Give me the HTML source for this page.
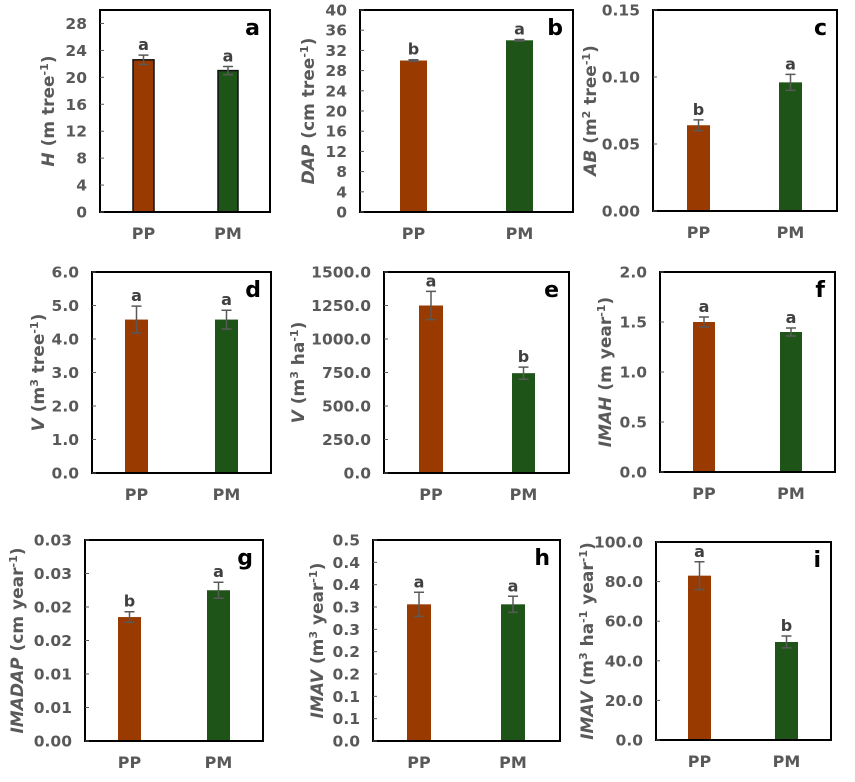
<!DOCTYPE html>
<html><head><meta charset="utf-8"><style>
html,body{margin:0;padding:0;background:#fff;}
svg{display:block;font-family:"DejaVu Sans","Liberation Sans",sans-serif;}
</style></head><body>
<svg id="fig" width="855" height="782" viewBox="0 0 855 782"></svg>
<script>
// Data arrays
const categories = ["PP", "PM"];
const panelIds = ["a","b","c","d","e","f","g","h","i"];
const meanH = [22.6, 21.0];      const errH = [0.7, 0.6];     const letH = ["a","a"];
const meanDAP = [30.0, 34.0];    const errDAP = [0.15, 0.15]; const letDAP = ["b","a"];
const meanAB = [0.064, 0.096];   const errAB = [0.004, 0.006];const letAB = ["b","a"];
const meanVt = [4.58, 4.58];     const errVt = [0.4, 0.28];   const letVt = ["a","a"];
const meanVha = [1250, 745];     const errVha = [105, 45];    const letVha = ["a","b"];
const meanIMAH = [1.5, 1.4];     const errIMAH = [0.05, 0.04];const letIMAH = ["a","a"];
const meanIMADAP = [0.0185, 0.0225]; const errIMADAP = [0.0008, 0.0012]; const letIMADAP = ["b","a"];
const meanIMAV = [0.34, 0.34];   const errIMAV = [0.03, 0.02]; const letIMAV = ["a","a"];
const meanIMAVha = [83, 49.5];   const errIMAVha = [7, 3];    const letIMAVha = ["a","b"];
const ticksH = ["0","4","8","12","16","20","24","28"];
const ticksDAP = ["0","4","8","12","16","20","24","28","32","36","40"];
const ticksAB = ["0.00","0.05","0.10","0.15"];
const ticksVt = ["0.0","1.0","2.0","3.0","4.0","5.0","6.0"];
const ticksVha = ["0.0","250.0","500.0","750.0","1000.0","1250.0","1500.0"];
const ticksIMAH = ["0.0","0.5","1.0","1.5","2.0"];
const ticksIMADAP = ["0.00","0.01","0.01","0.02","0.02","0.03","0.03"];
const ticksIMAV = ["0.0","0.1","0.1","0.2","0.2","0.3","0.3","0.4","0.4","0.5"];
const ticksIMAVha = ["0.0","20.0","40.0","60.0","80.0","100.0"];
const tickStep = [4, 4, 0.05, 1, 250, 0.5, 0.005, 0.5/9, 20];
const yMax = [30, 40, 0.15, 6, 1500, 2, 0.03, 0.5, 100];

// Layout (not data)
const layout = [
 {l:100,r:270,t:10,b:212,bars:[[133,154],[218,238]],tx:48,outline:true,title:["H"," (m tree","-1",")"]},
 {l:360,r:573,t:10,b:212,bars:[[400,427],[506,533]],tx:308,title:["DAP"," (cm tree","-1",")"]},
 {l:653,r:837,t:10,b:211,bars:[[687,710],[779,802]],tx:590,title:["AB"," (m","2"," tree","-1",")"]},
 {l:92,r:271,t:272,b:473,bars:[[125,148],[215,238]],tx:38,title:["V"," (m","3"," tree","-1",")"]},
 {l:384,r:569,t:272,b:473,bars:[[419,443],[512,535]],tx:298,title:["V","  (m","3"," ha","-1",")"]},
 {l:660,r:835,t:272,b:472,bars:[[693,715],[780,802]],tx:605,title:["IMAH"," (m year","-1",")"]},
 {l:85,r:263,t:540,b:741,bars:[[118,141],[207,230]],tx:17,title:["IMADAP"," (cm year","-1",")"]},
 {l:373,r:560,t:540,b:741,bars:[[407,431],[501,525]],tx:317,title:["IMAV"," (m","3"," year","-1",")"]},
 {l:656,r:831,t:542,b:740,bars:[[688,711],[775,798]],tx:587,title:["IMAV","  (m","3"," ha","-1"," year","-1",")"]}
];
const means=[meanH,meanDAP,meanAB,meanVt,meanVha,meanIMAH,meanIMADAP,meanIMAV,meanIMAVha];
const errs=[errH,errDAP,errAB,errVt,errVha,errIMAH,errIMADAP,errIMAV,errIMAVha];
const lets=[letH,letDAP,letAB,letVt,letVha,letIMAH,letIMADAP,letIMAV,letIMAVha];
const ticks=[ticksH,ticksDAP,ticksAB,ticksVt,ticksVha,ticksIMAH,ticksIMADAP,ticksIMAV,ticksIMAVha];
const colors=["#993a00","#1f5419"];
const NS="http://www.w3.org/2000/svg";
const svg=document.getElementById("fig");
function mk(tag,attrs,parent,text){const e=document.createElementNS(NS,tag);for(const k in attrs)e.setAttribute(k,attrs[k]);if(text!==undefined)e.textContent=text;parent.appendChild(e);return e;}

layout.forEach((L,p)=>{
  const g=mk("g",{},svg);
  
  
  const y=v=>L.b-(v/yMax[p])*(L.b-L.t);
  categories.forEach((c,i)=>{
    const [x0,x1]=L.bars[i];
    const r=mk("rect",{x:x0,y:y(means[p][i]),width:x1-x0,height:L.b-y(means[p][i]),fill:colors[i],stroke:L.outline?"#111":"none","stroke-width":L.outline?1.5:0},g);
    
    
    const cx=(x0+x1)/2, yt=y(means[p][i]+errs[p][i]), yb=y(means[p][i]-errs[p][i]);
    const eb=mk("path",{d:`M${cx},${yt}V${yb}M${cx-5},${yt}H${cx+5}M${cx-5},${yb}H${cx+5}`,stroke:"#595959","stroke-width":1.5,fill:"none"},g);
    
    
    const lt=mk("text",{x:cx,y:yt-5,"text-anchor":"middle","font-size":16,"font-weight":"bold",fill:"#404040"},g,lets[p][i]);
    
    
    const xl=mk("text",{x:cx,y:L.b+27,"text-anchor":"middle","font-size":16,"font-weight":"bold",fill:"#595959"},g,c);
    
    
  });
  const fr=mk("rect",{x:L.l,y:L.t,width:L.r-L.l,height:L.b-L.t,fill:"none",stroke:"#000","stroke-width":2},g);
  
  
  ticks[p].forEach((t,k)=>{
    const yy=y(k*tickStep[p]);
    mk("line",{x1:L.l,x2:L.l+4,y1:yy,y2:yy,stroke:"#595959","stroke-width":1},g);
    const tl=mk("text",{x:L.l-13,y:yy+5.5,"text-anchor":"end","font-size":15.5,"font-weight":"bold",fill:"#595959"},g,t);
    
    
  });
  const pl=mk("text",{x:L.r-10,y:L.t+25,"text-anchor":"end","font-size":22,"font-weight":"bold",fill:"#000"},g,panelIds[p]);
  
  
  const cy=(L.t+L.b)/2;
  const tt=mk("text",{x:0,y:0,transform:`translate(${L.tx+6},${cy}) rotate(-90)`,"text-anchor":"middle","font-size":17,"font-weight":"bold",fill:"#595959","xml:space":"preserve"},g);
  
  
  L.title.forEach((s,k)=>{
    const a={};
    if(k===0)a["font-style"]="italic";
    if(s==="-1"||s==="2"||s==="3"){a["baseline-shift"]="super";a["font-size"]=11;}
    mk("tspan",a,tt,s);
  });
});
</script>
</body></html>
